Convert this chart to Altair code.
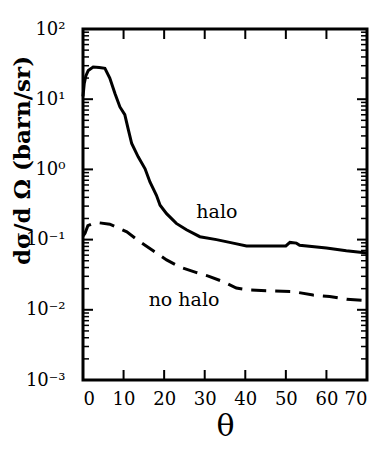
import altair as alt
import pandas as pd

# halo curve (theta in degrees, dsigma/dOmega in barn/sr)
halo_theta = [0, 0.3, 0.7, 1.3, 2.5, 4.0, 5.4, 6.6, 7.9, 9.1, 10.3, 11.2, 12.0, 13.6,
              15.3, 16.5, 18.1, 19.0, 20.6, 23.0, 25.5, 28.8, 32.9, 37.0, 40.3, 45.0,
              50.0, 51.0, 52.6, 53.4, 60.0, 64.9, 70.0]
halo_value = [10.96, 16.6, 21.4, 25.7, 28.8, 28.2, 27.5, 20.0, 12.0, 7.76, 6.03, 3.63,
              2.34, 1.51, 1.02, 0.661, 0.427, 0.309, 0.234, 0.170, 0.138, 0.110, 0.100,
              0.0891, 0.0813, 0.0813, 0.0813, 0.0912, 0.0891, 0.0832, 0.0759, 0.0692,
              0.0646]

# no-halo curve
nohalo_theta = [0, 0.5, 1.2, 2.5, 3.8, 6.6, 10.8, 14.0, 17.3, 20.6, 23.9, 28.0, 30.9,
                34.6, 37.8, 41.1, 51.8, 56.7, 60.8, 65.0, 70.0]
nohalo_value = [0.112, 0.123, 0.158, 0.170, 0.174, 0.166, 0.129, 0.0933, 0.0692, 0.0513,
                0.0407, 0.0339, 0.0302, 0.0251, 0.0204, 0.0191, 0.0182, 0.0162, 0.0155,
                0.0141, 0.0135]

# annotations
label_text = ["halo", "no halo"]
label_theta = [33.0, 24.9]
label_value = [0.247, 0.0138]

# axis ticks
x_ticks = [0, 10, 20, 30, 40, 50, 60, 70]
x_inner_ticks = [10, 20, 30, 40, 50, 60]
y_decades = [0.001, 0.01, 0.1, 1, 10, 100]
y_tick_labels = ["10⁻³", "10⁻²", "10⁻¹", "10⁰", "10¹", "10²"]
y_minor = [m * d for d in [0.001, 0.01, 0.1, 1, 10] for m in range(2, 10)]

W, H = 284, 351
FONT = "DejaVu Serif"

halo_df = pd.DataFrame({"theta": halo_theta, "v": halo_value})
nohalo_df = pd.DataFrame({"theta": nohalo_theta, "v": nohalo_value})
lab_df = pd.DataFrame({"t": label_text, "theta": label_theta, "v": label_value})

xscale = alt.Scale(domain=[0, 70], nice=False, zero=False)
yscale = alt.Scale(type="log", domain=[0.001, 100], nice=False)

label_expr = "[" + ",".join("'%s'" % s for s in y_tick_labels) + "][round(log(datum.value)/LN10)+3]"

xaxis = alt.Axis(values=x_ticks, ticks=False, domain=False, grid=False,
                 labelFont=FONT, labelFontSize=18, labelPadding=10,
                 labelColor="black", title="θ", titleFont=FONT,
                 titleFontSize=30, titleFontWeight="normal",
                 titleColor="black", titleY=46, titleBaseline="middle")
yaxis = alt.Axis(values=y_decades, ticks=False, domain=False, grid=False,
                 labelExpr=label_expr, labelFont=FONT, labelFontSize=18,
                 labelPadding=18, labelColor="black",
                 title="dσ/d Ω (barn/sr)", titleFont=FONT, titleFontSize=23,
                 titleFontWeight="bold", titleColor="black",
                 titleX=-61, titleY=131, titleAngle=-90,
                 titleAlign="center", titleBaseline="middle")

X = lambda f: alt.X(f, scale=xscale, axis=xaxis)
Y = lambda f: alt.Y(f, scale=yscale, axis=yaxis)

halo_line = alt.Chart(halo_df).mark_line(color="black", strokeWidth=3).encode(
    x=X("theta:Q"), y=Y("v:Q"))

nohalo_line = alt.Chart(nohalo_df).mark_line(color="black", strokeWidth=3, strokeDash=[15, 9]).encode(
    x=X("theta:Q"), y=Y("v:Q"))

labels = alt.Chart(lab_df).mark_text(font=FONT, fontSize=19, color="black", align="center",
                                     baseline="middle").encode(
    x=X("theta:Q"), y=Y("v:Q"), text="t:N")

def yrules(vals, x0, x1, sw):
    return alt.Chart(pd.DataFrame({"v": vals})).mark_rule(color="black", strokeWidth=sw).encode(
        y=Y("v:Q"), x=alt.value(x0), x2=alt.value(x1))

def xrules(vals, y0, y1, sw):
    return alt.Chart(pd.DataFrame({"theta": vals})).mark_rule(color="black", strokeWidth=sw).encode(
        x=X("theta:Q"), y=alt.value(y0), y2=alt.value(y1))

ticks = [
    yrules(y_decades, 0, 10, 2), yrules(y_minor, 0, 6, 1.5),
    yrules(y_decades, W, W - 10, 2), yrules(y_minor, W, W - 6, 1.5),
    xrules(x_inner_ticks, H, H - 10, 2), xrules(x_inner_ticks, 0, 10, 2),
]

chart = alt.layer(halo_line, nohalo_line, labels, *ticks).properties(
    width=W, height=H,
    autosize=alt.AutoSizeParams(type="none"),
    padding={"left": 75, "top": 21, "right": 7, "bottom": 63},
).configure_view(stroke="black", strokeWidth=3)

chart.save("out.html", embed_options={"renderer": "svg", "actions": False})
